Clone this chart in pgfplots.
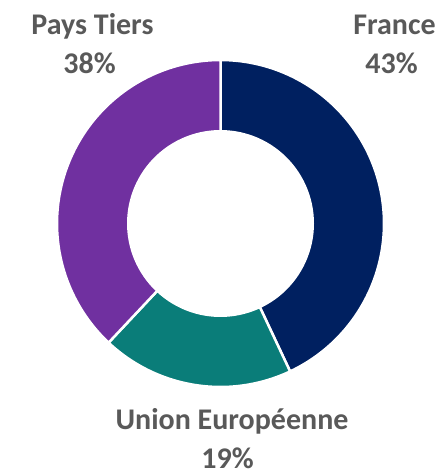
\documentclass[border=0pt]{standalone}
\usepackage{fontspec}
\setmainfont{Carlito}
\usepackage{pgfplots}
\pgfplotsset{compat=1.18}
\definecolor{cfrance}{HTML}{002060}
\definecolor{cue}{HTML}{0A7D79}
\definecolor{ctiers}{HTML}{7030A0}
\definecolor{ctext}{HTML}{595959}
% shares in percent
\def\pFrance{43}
\def\pUE{19}
\def\pTiers{38}
\begin{document}
\begin{tikzpicture}
\pgfmathsetmacro{\aA}{90}
\pgfmathsetmacro{\aB}{90-3.6*\pFrance}
\pgfmathsetmacro{\aC}{\aB-3.6*\pUE}
\pgfmathsetmacro{\aD}{\aC-3.6*\pTiers}
\def\cx{220.5}
\def\cy{252.5}
\def\R{163.5}
\def\r{93.5}
\begin{axis}[
  width=444pt, height=476pt, scale only axis,
  xmin=0, xmax=444, ymin=0, ymax=476,
  hide axis, clip=false,
]
\path (axis cs:0,0) rectangle (axis cs:444,476);
\addplot[fill=cfrance, draw=white, line width=2.5pt, line join=round, domain=\aB:\aA, samples=90]
  ({\cx+\R*cos(x)},{\cy+\R*sin(x)}) -- (axis cs:\cx,\cy) -- cycle;
\addplot[fill=cue, draw=white, line width=2.5pt, line join=round, domain=\aC:\aB, samples=60]
  ({\cx+\R*cos(x)},{\cy+\R*sin(x)}) -- (axis cs:\cx,\cy) -- cycle;
\addplot[fill=ctiers, draw=white, line width=2.5pt, line join=round, domain=\aD:\aC, samples=90]
  ({\cx+\R*cos(x)},{\cy+\R*sin(x)}) -- (axis cs:\cx,\cy) -- cycle;
\addplot[fill=white, draw=none, domain=0:360, samples=120]
  ({\cx+\r*cos(x)},{\cy+\r*sin(x)}) -- cycle;
\tikzset{lab/.style={anchor=base, text=ctext, inner sep=0pt, font=\fontsize{30}{36}\selectfont\bfseries}}
\node[lab] at (axis cs:92.5,441) {Pays Tiers};
\node[lab] at (axis cs:89.5,402) {\pTiers\%};
\node[lab] at (axis cs:394.5,441) {France};
\node[lab] at (axis cs:391.5,402) {\pFrance\%};
\node[lab] at (axis cs:232,46) {Union Européenne};
\node[lab] at (axis cs:227.5,8) {\pUE\%};
\end{axis}
\end{tikzpicture}
\end{document}
